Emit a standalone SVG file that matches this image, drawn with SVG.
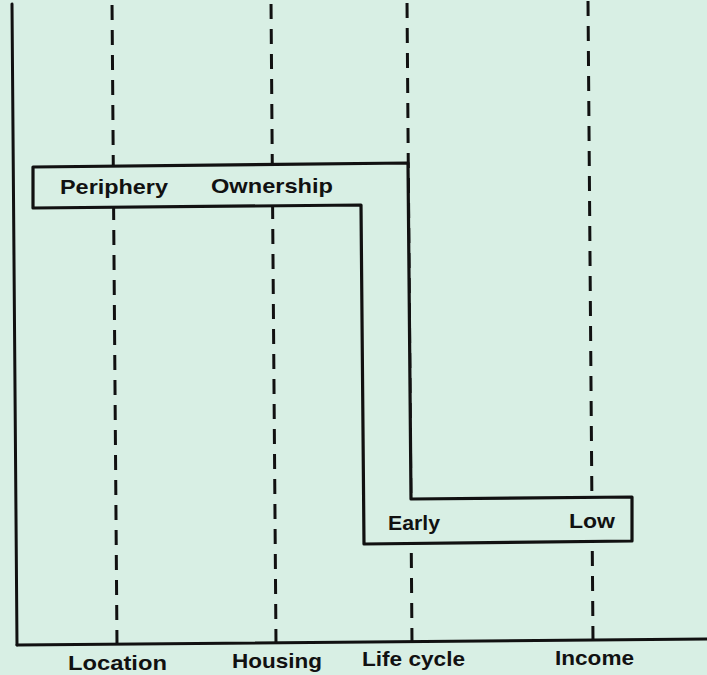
<svg xmlns="http://www.w3.org/2000/svg" width="707" height="675" viewBox="0 0 707 675">
  <style>
    .axis { stroke: #111; stroke-width: 3; fill: none; stroke-linecap: round; }
    .grid { stroke: #111; stroke-width: 3; fill: none; stroke-dasharray: 15 10; }
    .band { stroke: #111; stroke-width: 3.2; fill: #d8efe4; stroke-linejoin: round; }
    .lbl { font-family: "Liberation Sans", Arial, sans-serif; font-weight: bold; font-size: 21px; fill: #111; }
  </style>
  <rect x="0" y="0" width="707" height="675" fill="#d8efe4"/>
  <g id="gridlines">
    <line class="grid" x1="117" y1="645" x2="112" y2="0"/>
    <line class="grid" x1="276" y1="644" x2="271" y2="0"/>
    <line class="grid" x1="412" y1="643" x2="407" y2="0"/>
    <line class="grid" x1="593" y1="641" x2="588" y2="0"/>
  </g>
  <g id="axes">
    <line class="axis" x1="12" y1="4" x2="17" y2="645"/>
    <line class="axis" x1="17" y1="645" x2="707" y2="639"/>
  </g>
  <g id="band">
    <polygon class="band" points="33,167 408,163 411,499 632,497 632,541 364,544 361,205 33,208"/>
  </g>
  <g id="band-labels">
    <text class="lbl" x="60" y="194" textLength="108" lengthAdjust="spacingAndGlyphs">Periphery</text>
    <text class="lbl" x="211" y="193" textLength="122" lengthAdjust="spacingAndGlyphs">Ownership</text>
    <text class="lbl" x="388" y="530" textLength="52" lengthAdjust="spacingAndGlyphs">Early</text>
    <text class="lbl" x="569" y="528" textLength="46" lengthAdjust="spacingAndGlyphs">Low</text>
  </g>
  <g id="axis-labels">
    <text class="lbl" x="68" y="670" textLength="99" lengthAdjust="spacingAndGlyphs">Location</text>
    <text class="lbl" x="232" y="668" textLength="90" lengthAdjust="spacingAndGlyphs">Housing</text>
    <text class="lbl" x="362" y="666" textLength="103" lengthAdjust="spacingAndGlyphs">Life cycle</text>
    <text class="lbl" x="555" y="665" textLength="79" lengthAdjust="spacingAndGlyphs">Income</text>
  </g>
</svg>
